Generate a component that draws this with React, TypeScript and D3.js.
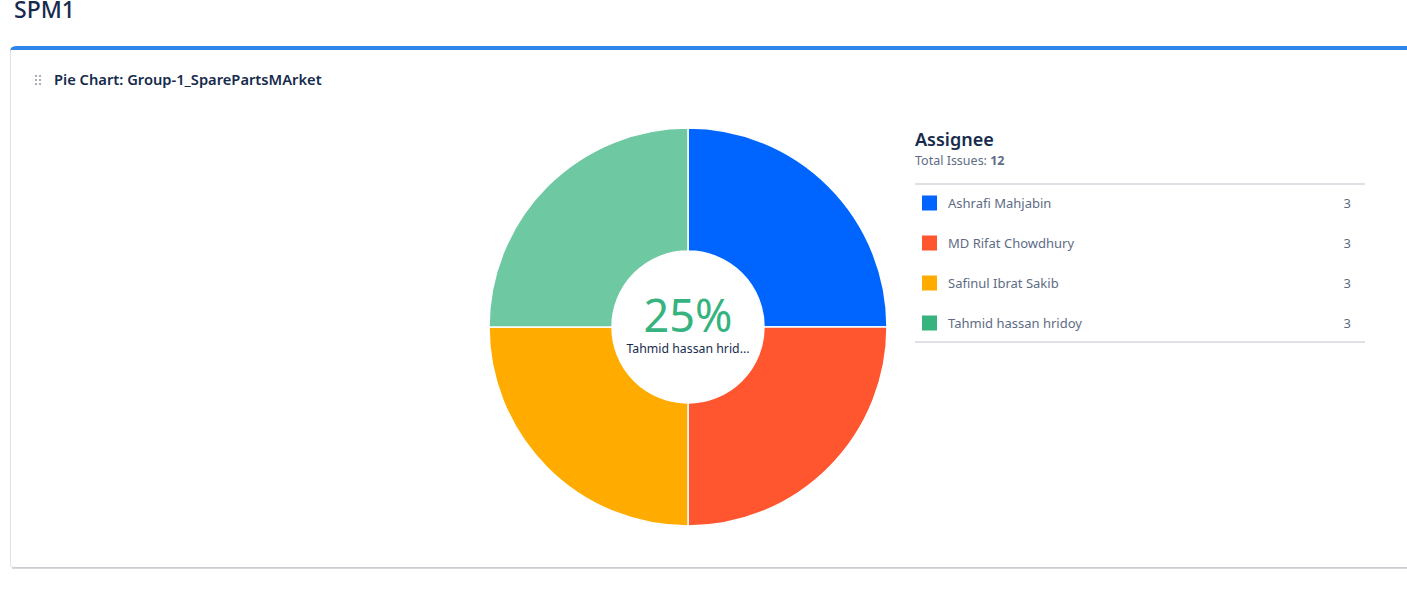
import { useEffect, useRef } from 'react'
import * as d3 from 'd3'

const assignees = ['Ashrafi Mahjabin', 'MD Rifat Chowdhury', 'Safinul Ibrat Sakib', 'Tahmid hassan hridoy']
const issueCounts = [3, 3, 3, 3]
const colors = ['#0065FF', '#FF5630', '#FFAB00', '#36B37E']
const highlighted = 3 // hovered slice shown in the centre

const FONT = '"Noto Sans", "Open Sans", sans-serif'

export default function App() {
  const svgRef = useRef<SVGSVGElement>(null)

  useEffect(() => {
    const svgEl = svgRef.current
    if (!svgEl) return
    const W = 1407
    const H = 602
    const svg = d3.select(svgEl)
    svg.selectAll('*').remove()
    svg.attr('width', W).attr('height', H)

    svg.append('rect').attr('width', W).attr('height', H).attr('fill', '#fff')

    // page title (scrolled, top is clipped in the reference too)
    svg.append('text')
      .attr('x', 14).attr('y', 18)
      .attr('font-family', FONT).attr('font-size', 23).attr('font-weight', 500)
      .attr('fill', '#172B4D')
      .text('SPM1')

    // card
    svg.append('rect')
      .attr('x', 10.5).attr('y', 47.5).attr('width', W + 20).attr('height', 520)
      .attr('rx', 3)
      .attr('fill', '#fff').attr('stroke', '#DFE1E6')
    svg.append('line')
      .attr('x1', 12).attr('x2', W).attr('y1', 568).attr('y2', 568)
      .attr('stroke', '#B3B6BC').attr('stroke-width', 1.2)
    svg.append('path')
      .attr('d', `M10,52 Q10,46 16,46 L${W},46 L${W},50 L10,50 Z`)
      .attr('fill', '#2F85E8')

    // drag handle
    const dots = svg.append('g').attr('fill', '#A5ADBA')
    for (let r = 0; r < 3; r++) {
      for (let c = 0; c < 2; c++) {
        dots.append('rect')
          .attr('x', 35 + c * 4).attr('y', 75 + r * 4)
          .attr('width', 2).attr('height', 2)
      }
    }

    svg.append('text')
      .attr('x', 54).attr('y', 85)
      .attr('font-family', FONT).attr('font-size', 14.7).attr('font-weight', 600)
      .attr('fill', '#172B4D')
      .text('Pie Chart: Group-1_SparePartsMArket')

    // pie
    const cx = 688
    const cy = 327
    const outerR = 199
    const innerR = 76
    const pie = d3.pie<number>().sort(null).value(d => d)
    const arcs = pie(issueCounts)
    const arc = d3.arc<d3.PieArcDatum<number>>().innerRadius(innerR).outerRadius(outerR)

    const g = svg.append('g').attr('transform', `translate(${cx},${cy})`)
    g.selectAll('path')
      .data(arcs)
      .enter().append('path')
      .attr('d', arc)
      .attr('fill', (_, i) => i === highlighted ? d3.interpolateRgb(colors[i], '#fff')(0.28) : colors[i])
      .attr('stroke', '#fff').attr('stroke-width', 1.5)

    const total = d3.sum(issueCounts)
    const pct = Math.round((issueCounts[highlighted] / total) * 100)
    g.append('text')
      .attr('y', 5).attr('text-anchor', 'middle')
      .attr('font-family', FONT).attr('font-size', 45)
      .attr('fill', '#36B37E')
      .text(`${pct}%`)
    const name = assignees[highlighted]
    g.append('text')
      .attr('y', 26).attr('text-anchor', 'middle')
      .attr('font-family', FONT).attr('font-size', 12.3)
      .attr('fill', '#172B4D')
      .text(name.length > 18 ? name.slice(0, 18) + '...' : name)

    // legend
    const lx = 915
    const lw = 450
    svg.append('text')
      .attr('x', lx).attr('y', 146)
      .attr('font-family', FONT).attr('font-size', 18).attr('font-weight', 600)
      .attr('fill', '#172B4D')
      .text('Assignee')
    const tot = svg.append('text')
      .attr('x', lx).attr('y', 165)
      .attr('font-family', FONT).attr('font-size', 12.5)
      .attr('fill', '#5E6C84')
    tot.append('tspan').text('Total Issues: ')
    tot.append('tspan').attr('font-weight', 700).text(String(total))

    svg.append('line')
      .attr('x1', lx).attr('x2', lx + lw).attr('y1', 184).attr('y2', 184)
      .attr('stroke', '#DFE1E6').attr('stroke-width', 2)

    const rowY = d3.scaleBand<number>()
      .domain(d3.range(assignees.length))
      .range([183, 343])

    assignees.forEach((a, i) => {
      const y = (rowY(i) ?? 0) + rowY.bandwidth() / 2
      svg.append('rect')
        .attr('x', 922).attr('y', y - 7.5).attr('width', 15).attr('height', 15)
        .attr('fill', colors[i])
      svg.append('text')
        .attr('x', 948).attr('y', y + 4.5)
        .attr('font-family', FONT).attr('font-size', 13)
        .attr('fill', '#5E6C84')
        .text(a)
      svg.append('text')
        .attr('x', 1351).attr('y', y + 4.5).attr('text-anchor', 'end')
        .attr('font-family', FONT).attr('font-size', 13)
        .attr('fill', '#5E6C84')
        .text(String(issueCounts[i]))
    })

    svg.append('line')
      .attr('x1', lx).attr('x2', lx + lw).attr('y1', 342).attr('y2', 342)
      .attr('stroke', '#DFE1E6').attr('stroke-width', 2)
  }, [])

  return (
    <div style={{ position: 'fixed', left: 0, top: 0, width: 1407, height: 602, overflow: 'hidden' }}>
      <svg ref={svgRef} style={{ display: 'block' }} />
    </div>
  )
}
